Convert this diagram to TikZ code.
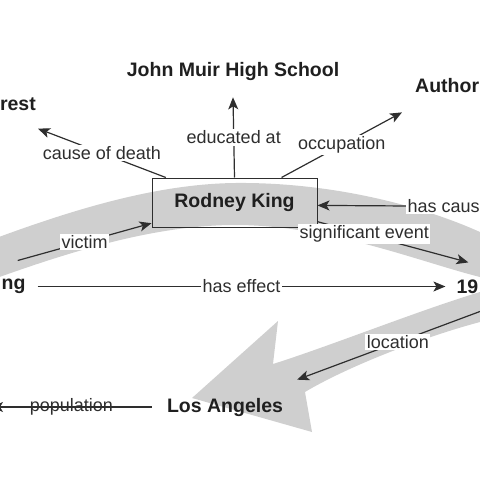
\documentclass[tikz,border=0pt]{standalone}
\usepackage{fontspec}
\setmainfont{Liberation Sans}
\usetikzlibrary{arrows.meta}
\begin{document}
\begin{tikzpicture}[x=1pt,y=-1pt,
  ent/.style={font=\fontsize{19.5}{22}\selectfont\bfseries, text=black!88, inner sep=1pt},
  lbl/.style={font=\fontsize{18}{20}\selectfont, text=black!82, fill=white, inner sep=1.5pt},
  rel/.style={draw=black!82, line width=1.2pt},
  arr/.style={rel, -{Stealth[length=12pt,width=10pt,inset=3pt]}},
  band/.style={fill=black!19}
]
\useasboundingbox (0,0) rectangle (480,480);
\clip (0,0) rectangle (480,480);
\fill[band] (-20,244) .. controls (60,214) and (150,184) .. (235,183)
 .. controls (330,182) and (420,205) .. (480,232)
 .. controls (545,262) and (540,312) .. (480,322)
 .. controls (420,338) and (345,368) .. (305,392)
 -- (312,432) -- (192,398) -- (278,321) -- (273,364)
 .. controls (330,346) and (420,310) .. (480,292)
 .. controls (497,286) and (497,281) .. (480,277)
 .. controls (420,262) and (330,225) .. (235,225)
 .. controls (150,225) and (60,255) .. (-20,284) -- cycle;

\node[ent] (jm) at (233,71) {John Muir High School};
\node[ent, anchor=east] (rest) at (37,104) {rest};
\node[ent, anchor=west] (au) at (414,86) {Author};
\node[ent, anchor=west] (ng) at (0.5,286.5) {ng};
\node[ent, anchor=east] (n19) at (479.5,286.5) {19};
\node[ent] (la) at (225,407) {Los Angeles};
\node[ent, draw=black!82, line width=1pt, minimum width=165pt, minimum height=49pt] (rk) at (234.5,202.5) {Rodney King};
\coordinate (cz) at (560,207);
\coordinate (pop) at (-9,407);

\draw[arr] (rk.160) -- node[lbl]{cause of death} ([shift={(1,17)}]rest.south east);
\draw[arr] (rk.north) -- node[lbl]{educated at} ([shift={(0,16)}]jm.south);
\draw[arr] (rk.28) -- node[lbl]{occupation} ([shift={(-12,18)}]au.south west);
\draw[arr] (cz) -- node[lbl,pos=0.48]{has caus} (rk.-2);
\draw[arr] ([shift={(-9,-26)}]ng.east) -- node[lbl]{victim} (rk.194);
\draw[arr] ([shift={(11,0)}]ng.east) -- node[lbl]{has effect} ([shift={(-10,0)}]n19.west);
\draw[arr] (rk.-13) -- node[lbl,pos=0.31]{significant event} ([shift={(13,-16)}]n19.north west);
\draw[arr] ([shift={(43,10)}]n19.south west) -- node[lbl]{location} ([shift={(13,-17)}]la.north east);
\draw[arr] ([shift={(-14,0)}]la.west) -- node[lbl, fill=none]{population} (pop);
\end{tikzpicture}
\end{document}
